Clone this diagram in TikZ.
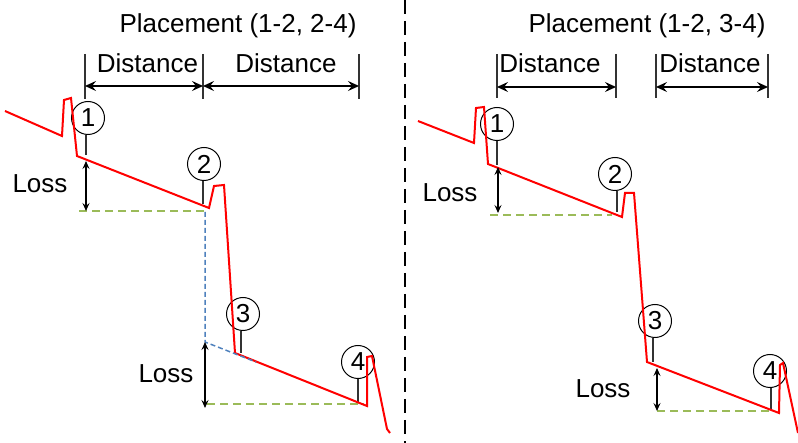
\documentclass[tikz,border=0pt]{standalone}
\usepackage{fontspec}
\setmainfont{Liberation Sans}
\usetikzlibrary{arrows.meta}
\definecolor{lossgreen}{RGB}{155,187,89}
\definecolor{guideblue}{RGB}{79,129,189}
\begin{document}
\begin{tikzpicture}[x=1pt,y=-1pt,
  lbl/.style={font=\fontsize{26}{30}\selectfont, inner sep=0pt, anchor=base},
  num/.style={circle, draw, line width=1pt, fill=white, minimum size=33pt, inner sep=0pt, font=\fontsize{26}{30}\selectfont},
  tracel/.style={draw=red, line width=2pt, line join=miter},
  stem/.style={line width=1.2pt, draw=black!80},
  tickl/.style={line width=1.2pt, draw=black!80},
  darrow/.style={line width=1.3pt, {Stealth[length=11pt,width=10pt,inset=4pt]}-{Stealth[length=11pt,width=10pt,inset=4pt]}},
  larrow/.style={line width=1.4pt, {Stealth[length=8pt,width=7pt,inset=3pt]}-{Stealth[length=8pt,width=7pt,inset=3pt]}},
  gdash/.style={draw=lossgreen, line width=1.6pt, dash pattern=on 8pt off 5pt},
  bdash/.style={draw=guideblue, line width=1.5pt, dash pattern=on 5pt off 3pt},
  divider/.style={line width=1.8pt, dash pattern=on 14pt off 7pt},
]
\useasboundingbox (0,0) rectangle (798,443);

% ---------- divider ----------
\coordinate (dvT) at (405,0);
\coordinate (dvB) at (405,443);
\draw[divider] (dvT) -- (dvB);

% ---------- titles ----------
\node[lbl] (titleL) at (238,33) {Placement (1-2, 2-4)};
\node[lbl] (titleR) at (647,33) {Placement (1-2, 3-4)};

% ---------- left distance markers ----------
\coordinate (lt1a) at (85,54);  \coordinate (lt1b) at (85,99);
\coordinate (lt2a) at (203,54); \coordinate (lt2b) at (203,99);
\coordinate (lt3a) at (359,54); \coordinate (lt3b) at (359,99);
\draw[tickl] (lt1a) -- (lt1b);
\draw[tickl] (lt2a) -- (lt2b);
\draw[tickl] (lt3a) -- (lt3b);
\coordinate (la1) at (85,86); \coordinate (la2) at (203,86); \coordinate (la3) at (359,86);
\draw[darrow] (la1) -- (la2);
\draw[darrow] (la2) -- (la3);
\node[lbl] (distL1) at (147.5,73) {Distance};
\node[lbl] (distL2) at (286,73) {Distance};

% ---------- right distance markers ----------
\coordinate (rt1a) at (497,54); \coordinate (rt1b) at (497,98);
\coordinate (rt2a) at (616,54); \coordinate (rt2b) at (616,98);
\coordinate (rt3a) at (656,54); \coordinate (rt3b) at (656,98);
\coordinate (rt4a) at (768,54); \coordinate (rt4b) at (768,98);
\draw[tickl] (rt1a) -- (rt1b);
\draw[tickl] (rt2a) -- (rt2b);
\draw[tickl] (rt3a) -- (rt3b);
\draw[tickl] (rt4a) -- (rt4b);
\coordinate (ra1) at (497,87); \coordinate (ra2) at (616,87);
\coordinate (ra3) at (656,87); \coordinate (ra4) at (768,87);
\draw[darrow] (ra1) -- (ra2);
\draw[darrow] (ra3) -- (ra4);
\node[lbl] (distR1) at (550,73) {Distance};
\node[lbl] (distR2) at (710,73) {Distance};

% ---------- left markers ----------
\node[num] (L1) at (88,118) {1};
\node[num] (L2) at (204,164) {2};
\node[num] (L3) at (243,314) {3};
\node[num] (L4) at (358,362) {4};
\coordinate (sL1) at (86,155);
\coordinate (sL2) at (203,204);
\coordinate (sL3) at (241,353);
\coordinate (sL4) at (358,403);
\draw[stem] (L1.south -| sL1) -- (sL1);
\draw[stem] (L2.south -| sL2) -- (sL2);
\draw[stem] (L3.south -| sL3) -- (sL3);
\draw[stem] (L4.south -| sL4) -- (sL4);

% ---------- right markers ----------
\node[num] (R1) at (497,124) {1};
\node[num] (R2) at (615,174) {2};
\node[num] (R3) at (655,321) {3};
\node[num] (R4) at (770,371) {4};
\coordinate (sR1) at (497,165);
\coordinate (sR2) at (617,212);
\coordinate (sR3) at (653,362);
\coordinate (sR4) at (771,410);
\draw[stem] (R1.south -| sR1) -- (sR1);
\draw[stem] (R2.south -| sR2) -- (sR2);
\draw[stem] (R3.south -| sR3) -- (sR3);
\draw[stem] (R4.south -| sR4) -- (sR4);

% ---------- loss reference lines ----------
\coordinate (gL1a) at (79,211);  \coordinate (gL1b) at (205,211);
\coordinate (gL2a) at (207,404); \coordinate (gL2b) at (364,404);
\coordinate (gR1a) at (490,215); \coordinate (gR1b) at (612,215);
\coordinate (gR2a) at (657,411); \coordinate (gR2b) at (770,411);
\draw[gdash] (gL1a) -- (gL1b);
\draw[gdash] (gL2a) -- (gL2b);
\draw[gdash] (gR1a) -- (gR1b);
\draw[gdash] (gR2a) -- (gR2b);

% ---------- traces ----------
\draw[tracel] (5,111) -- (62,136) -- (64,100) -- (71,98) -- (77,156) -- (209,208)
  -- (214,186) -- (224,185) -- (235,353) -- (367,406) -- (367,357) -- (372,356)
  -- (387,429) -- (390,433);
\draw[tracel] (418,121) -- (474,143) -- (476,108) -- (484,107) -- (488,164) -- (622,217)
  -- (625,193) -- (634,193) -- (647,362) -- (779,413) -- (780,365) -- (783,363)
  -- (798,433);

% ---------- blue guide ----------
\coordinate (bA) at (205,212);
\coordinate (bB) at (205,342);
\coordinate (bC) at (256,362);
\draw[bdash] (bA) -- (bB) -- (bC);

% ---------- loss arrows ----------
\coordinate (aL1a) at (86,161);  \coordinate (aL1b) at (86,211);
\coordinate (aL2a) at (205,342); \coordinate (aL2b) at (205,408);
\coordinate (aR1a) at (498,167); \coordinate (aR1b) at (498,213);
\coordinate (aR2a) at (657,368); \coordinate (aR2b) at (657,411);
\draw[larrow] (aL1a) -- (aL1b);
\draw[larrow] (aL2a) -- (aL2b);
\draw[larrow] (aR1a) -- (aR1b);
\draw[larrow] (aR2a) -- (aR2b);
\node[lbl] (lossL1) at (40,193) {Loss};
\node[lbl] (lossL2) at (166,383) {Loss};
\node[lbl] (lossR1) at (450,202) {Loss};
\node[lbl] (lossR2) at (603,398) {Loss};
\end{tikzpicture}
\end{document}
